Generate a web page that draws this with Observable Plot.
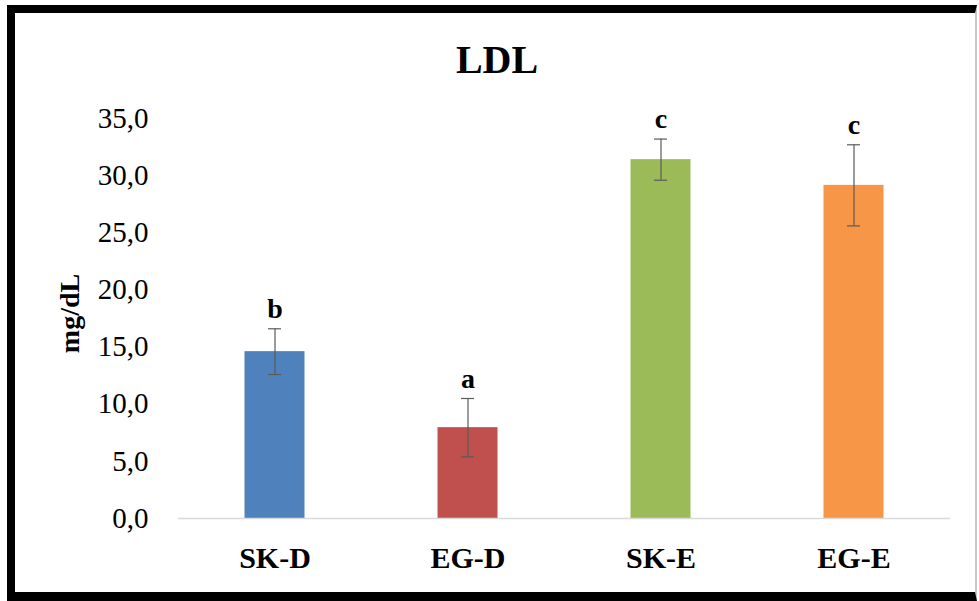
<!DOCTYPE html>
<html>
<head>
<meta charset="utf-8">
<script src="https://cdn.jsdelivr.net/npm/d3@7"></script>
<script src="https://cdn.jsdelivr.net/npm/@observablehq/plot@0.6"></script>
<style>
  html, body { margin: 0; padding: 0; background: white; }
  body { width: 979px; height: 601px; position: relative; overflow: hidden; font-family: "Liberation Serif", "Times New Roman", serif; }
  #frame { position: absolute; left: 7px; top: 5px; width: 970px; height: 596px; box-sizing: border-box;
           border-top: 8px solid #000; border-left: 8px solid #000; border-bottom: 9px solid #000; border-right: 2px solid #c8c8c8; }
  #title { position: absolute; left: 15px; width: 964px; top: 40px; height: 40px; line-height: 40px;
           text-align: center; font-size: 40px; font-weight: bold; color: #000; }
  #chart { position: absolute; left: 15px; top: 95px; }
</style>
</head>
<body>
<div id="frame"></div>
<div id="title">LDL</div>
<div id="chart"></div>
<script>
const groups = ["SK-D", "EG-D", "SK-E", "EG-E"];
const means = [14.6, 7.95, 31.4, 29.15];
const sds = [2.0, 2.55, 1.8, 3.55];
const letters = ["b", "a", "c", "c"];
const colors = ["#4F81BD", "#C0504D", "#9BBB59", "#F79646"];
const yTicks = [0, 5, 10, 15, 20, 25, 30, 35];
const yLabel = "mg/dL";

const data = groups.map((g, i) => ({group: g, mean: means[i], sd: sds[i], letter: letters[i], color: colors[i]}));

const plot = Plot.plot({
  width: 960,
  height: 497,
  marginTop: 23,
  marginBottom: 74,
  marginLeft: 163,
  marginRight: 25,
  style: {background: "transparent", color: "#000", fontFamily: "'Liberation Serif', 'Times New Roman', serif"},
  x: {domain: groups, padding: 0},
  y: {domain: [0, 35]},
  marks: [
    Plot.axisY({ticks: yTicks, tickSize: 0, tickPadding: 30, fontSize: 29, label: null,
      tickFormat: d => d.toFixed(1).replace(".", ",")}),
    Plot.axisX({tickSize: 0, tickPadding: 28, fontSize: 30, fontWeight: "bold", label: null}),
    Plot.barY(data, {x: "group", y: "mean", fill: "color", insetLeft: 66.5, insetRight: 66.5}),
    Plot.ruleY([0], {stroke: "#d9d9d9", strokeWidth: 1.5}),
    Plot.ruleX(data, {x: "group", y1: d => d.mean - d.sd, y2: d => d.mean + d.sd, stroke: "#5a5a5a", strokeWidth: 1.2}),
    Plot.tickY(data, {x: "group", y: d => d.mean + d.sd, stroke: "#5a5a5a", strokeWidth: 1.2, insetLeft: 90, insetRight: 90}),
    Plot.tickY(data, {x: "group", y: d => d.mean - d.sd, stroke: "#5a5a5a", strokeWidth: 1.2, insetLeft: 90, insetRight: 90}),
    Plot.text(data, {x: "group", y: d => d.mean + d.sd, text: "letter", dy: -11, lineAnchor: "bottom",
      fontSize: 28, fontWeight: "bold", fill: "#000"}),
    Plot.text([yLabel], {frameAnchor: "left", dx: -108, dy: -5, rotate: -90, textAnchor: "middle", lineAnchor: "middle",
      fontSize: 28, fontWeight: "bold", fill: "#000"})
  ]
});
document.getElementById("chart").appendChild(plot);
</script>
</body>
</html>
